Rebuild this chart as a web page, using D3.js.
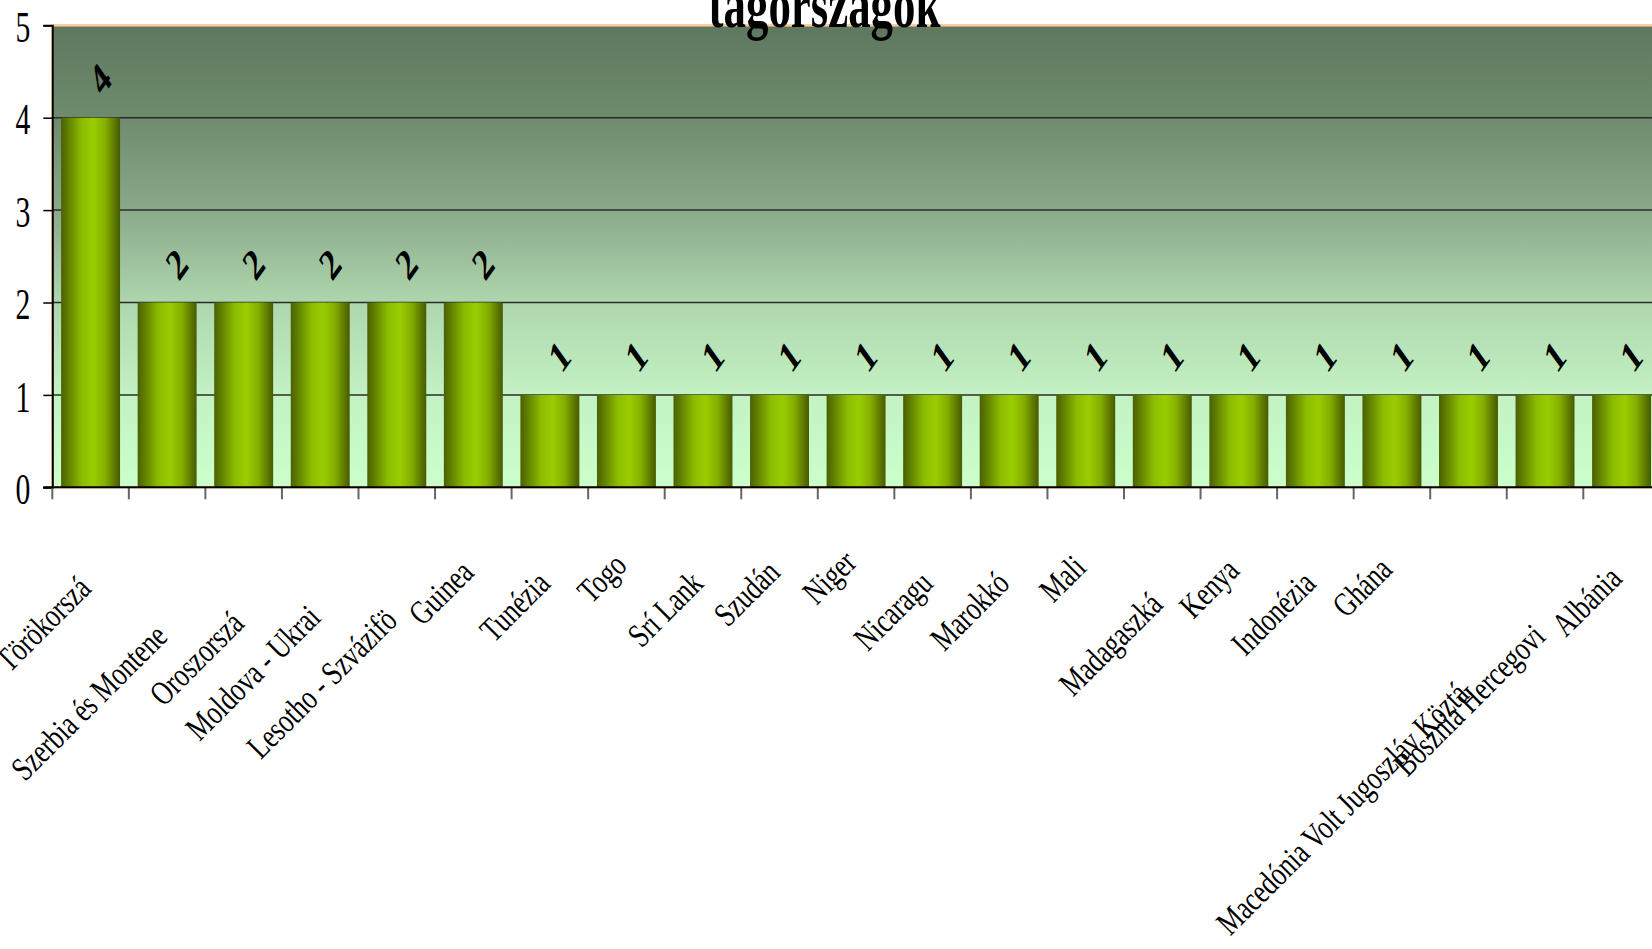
<!DOCTYPE html>
<html>
<head>
<meta charset="utf-8">
<script src="https://cdn.jsdelivr.net/npm/d3@7"></script>
<style>
  body { margin: 0; background: #fff; }
  svg { display: block; font-family: "Liberation Serif", "DejaVu Serif", serif; }
</style>
</head>
<body>
<div id="chart"></div>
<script>
// Data
const categories = ['Törökország', 'Szerbia és Montenegró', 'Oroszország', 'Moldova - Ukrajna',
  'Lesotho - Szváziföld', 'Guinea', 'Tunézia', 'Togo', 'Srí Lanka', 'Szudán', 'Niger', 'Nicaragua',
  'Marokkó', 'Mali', 'Madagaszkár', 'Kenya', 'Indonézia', 'Ghána',
  'Macedónia Volt Jugoszláv Köztársaság', 'Bosznia Hercegovina', 'Albánia'];
const values = [4, 2, 2, 2, 2, 2, 1, 1, 1, 1, 1, 1, 1, 1, 1, 1, 1, 1, 1, 1, 1];
// labels as they appear (clipped) under the axis
const tickLabels = ['Törökorszá', 'Szerbia és Montene', 'Oroszorszá', 'Moldova - Ukrai',
  'Lesotho - Szvázifö', 'Guinea', 'Tunézia', 'Togo', 'Srí Lank', 'Szudán', 'Niger', 'Nicaragu',
  'Marokkó', 'Mali', 'Madagaszká', 'Kenya', 'Indonézia', 'Ghána',
  'Macedónia Volt Jugoszláv Köztá', 'Bosznia Hercegovi', 'Albánia'];
const yTicks = [0, 1, 2, 3, 4, 5];
const titleText = 'tagországok';

// Layout
const W = 1652, H = 949;
const plot = { left: 52.3, top: 25.3, bottom: 487.3, step: 76.55 };
// how far below the axis each (staggered) category label ends
const labelDrop = [103, 151, 138, 132, 135, 87, 98, 80, 98, 87, 77, 98, 98, 82, 119, 85, 98, 84, 209, 151, 93];

const x = d3.scaleBand()
  .domain(categories)
  .range([plot.left, plot.left + plot.step * categories.length])
  .paddingInner(0.23)
  .paddingOuter(0.115);

const y = d3.scaleLinear().domain([0, 5]).range([plot.bottom, plot.top]);

const svg = d3.select('#chart').append('svg')
  .attr('width', W)
  .attr('height', H);

const defs = svg.append('defs');

const bg = defs.append('linearGradient')
  .attr('id', 'bgGrad')
  .attr('x1', 0).attr('y1', 0).attr('x2', 0).attr('y2', 1);
[[0, '#5e785f'], [0.2, '#6e8b6e'], [0.4, '#8aa98a'], [0.6, '#aed6ae'], [0.8, '#c3f2c3'], [1, '#ccffcc']]
  .forEach(s => bg.append('stop').attr('offset', s[0]).attr('stop-color', s[1]));

const barGrad = defs.append('linearGradient')
  .attr('id', 'barGrad')
  .attr('x1', 0).attr('y1', 0).attr('x2', 1).attr('y2', 0);
[[0, '#4a6100'], [0.1, '#5c7a00'], [0.35, '#8cbc00'], [0.55, '#9acd00'], [0.75, '#84ae00'], [0.92, '#5a7400'], [1, '#475b00']]
  .forEach(s => barGrad.append('stop').attr('offset', s[0]).attr('stop-color', s[1]));

const xEnd = plot.left + plot.step * categories.length;

// plot area
svg.append('rect')
  .attr('x', plot.left)
  .attr('y', plot.top)
  .attr('width', xEnd - plot.left)
  .attr('height', plot.bottom - plot.top)
  .attr('fill', 'url(#bgGrad)')
  .attr('stroke', '#ffcc99')
  .attr('stroke-width', 2.5);

// gridlines
svg.append('g')
  .selectAll('line')
  .data(yTicks.filter(t => t > 0 && t < 5))
  .enter()
  .append('line')
  .attr('x1', plot.left)
  .attr('x2', xEnd)
  .attr('y1', d => y(d))
  .attr('y2', d => y(d))
  .attr('stroke', '#2b2b2b')
  .attr('stroke-width', 1.5);

// bars
svg.append('g')
  .selectAll('rect')
  .data(values)
  .enter()
  .append('rect')
  .attr('x', (d, i) => x(categories[i]))
  .attr('y', d => y(d))
  .attr('width', x.bandwidth())
  .attr('height', d => y(0) - y(d))
  .attr('fill', 'url(#barGrad)');

// value labels (rotated, squeezed like the original)
svg.append('g')
  .selectAll('text')
  .data(values)
  .enter()
  .append('text')
  .attr('transform', (d, i) => 'translate(' + (x(categories[i]) + x.bandwidth() / 2 + 9.5) + ',' + (y(d) - 39) + ') scale(0.72,1) rotate(-45)')
  .attr('text-anchor', 'middle')
  .attr('dy', '0.35em')
  .attr('font-size', 44)
  .attr('font-weight', 'bold')
  .attr('fill', '#000')
  .text(d => d);

// y axis
const yAxis = d3.axisLeft(y).tickValues(yTicks).tickSize(9).tickFormat('');
svg.append('g')
  .attr('transform', 'translate(' + plot.left + ',0)')
  .call(yAxis)
  .call(g => g.select('.domain').attr('stroke', '#000').attr('stroke-width', 2))
  .call(g => g.selectAll('.tick line').attr('stroke', '#000').attr('stroke-width', 1.5));

svg.append('g')
  .selectAll('text')
  .data(yTicks)
  .enter()
  .append('text')
  .attr('transform', d => 'translate(' + (plot.left - 22) + ',' + y(d) + ') scale(0.66,1)')
  .attr('text-anchor', 'end')
  .attr('dy', '0.37em')
  .attr('font-size', 45)
  .attr('fill', '#000')
  .text(d => d);

// x axis: ticks sit on the band boundaries
const xTickPos = categories.map(c => x(c) - x.step() * x.paddingOuter());
svg.append('g')
  .selectAll('line')
  .data(xTickPos)
  .enter()
  .append('line')
  .attr('x1', d => d).attr('x2', d => d)
  .attr('y1', plot.bottom)
  .attr('y2', plot.bottom + 12)
  .attr('stroke', '#666')
  .attr('stroke-width', 2);

svg.append('line')
  .attr('x1', plot.left - 9)
  .attr('x2', xEnd)
  .attr('y1', plot.bottom)
  .attr('y2', plot.bottom)
  .attr('stroke', '#000')
  .attr('stroke-width', 2);

svg.append('g')
  .selectAll('text')
  .data(tickLabels)
  .enter()
  .append('text')
  .attr('transform', (d, i) => 'translate(' + (x(categories[i]) + x.bandwidth() / 2 + 2) + ',' + (plot.bottom + labelDrop[i]) + ') rotate(-45) scale(0.76,1)')
  .attr('text-anchor', 'end')
  .attr('font-size', 34)
  .attr('fill', '#000')
  .text(d => d);

// title (first line falls outside the picture)
svg.append('text')
  .attr('transform', 'translate(824.5,27) scale(0.68,1)')
  .attr('text-anchor', 'middle')
  .attr('font-size', 66)
  .attr('font-weight', 'bold')
  .attr('fill', '#000')
  .text(titleText);
</script>
</body>
</html>
